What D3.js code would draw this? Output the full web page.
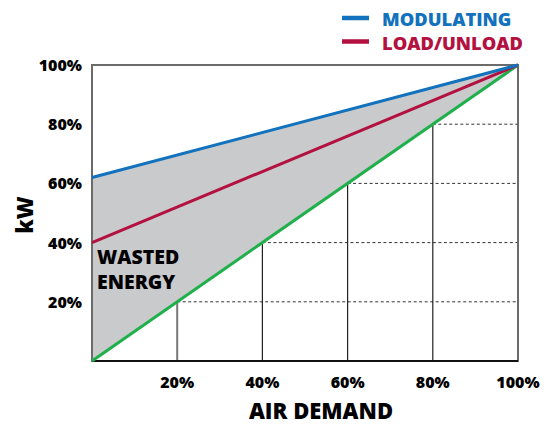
<!DOCTYPE html>
<html>
  <head>
    <style>
      body { margin: 0; background: white; }
      text { font-family: "Open Sans", sans-serif; font-weight: 800; }
    </style>
  </head>
  <body>
    <script src="https://cdn.jsdelivr.net/npm/d3@7/dist/d3.min.js"></script>
    <script>
      // air demand (%) and kW (%) for each curve
      var demand = [0, 100];
      var modulating = [62, 100];
      var loadUnload = [40, 100];
      var ideal = [0, 100];
      var gridTicks = [20, 40, 60, 80];
      var xTicks = [20, 40, 60, 80, 100];
      var yTicks = [20, 40, 60, 80, 100];
      var legendNames = ["MODULATING", "LOAD/UNLOAD"];

      var width = 550, height = 425;
      var margin = { top: 65, right: 32, bottom: 64, left: 92 };

      var svg = d3.select("body").append("svg")
          .attr("width", width)
          .attr("height", height);

      var x = d3.scaleLinear().domain([0, 100]).range([margin.left, width - margin.right]);
      var y = d3.scaleLinear().domain([0, 100]).range([height - margin.bottom, margin.top]);

      var blue = "#1272bd", red = "#b3113f", green = "#1fb04b";

      // wasted energy area between modulating and ideal
      var area = d3.area()
          .x(function(d) { return x(d.x); })
          .y0(function(d) { return y(d.lo); })
          .y1(function(d) { return y(d.hi); });
      var areaData = demand.map(function(v, i) { return { x: v, lo: ideal[i], hi: modulating[i] }; });
      svg.append("path")
          .datum(areaData)
          .attr("d", area)
          .attr("fill", "#c9cacc");

      // dashed horizontals from ideal line to right edge
      svg.selectAll(".hgrid")
        .data(gridTicks)
        .enter().append("line")
          .attr("x1", function(d) { return x(d); })
          .attr("x2", x(100))
          .attr("y1", function(d) { return y(d); })
          .attr("y2", function(d) { return y(d); })
          .attr("stroke", "#333")
          .attr("stroke-width", 1)
          .attr("stroke-dasharray", "3,2.5");

      // verticals from ideal line down to axis
      svg.selectAll(".vgrid")
        .data(gridTicks)
        .enter().append("line")
          .attr("x1", function(d) { return x(d); })
          .attr("x2", function(d) { return x(d); })
          .attr("y1", function(d) { return y(d); })
          .attr("y2", y(0))
          .attr("stroke", function(d, i) { return i === 0 ? "#777" : "#222"; })
          .attr("stroke-width", function(d, i) { return i === 0 ? 2 : 1.2; });

      // frame
      svg.append("rect")
          .attr("x", x(0)).attr("y", y(100))
          .attr("width", x(100) - x(0)).attr("height", y(0) - y(100))
          .attr("fill", "none")
          .attr("stroke", "#6b6b6b")
          .attr("stroke-width", 2);
      svg.append("line")
          .attr("x1", x(0)).attr("x2", x(100))
          .attr("y1", y(0)).attr("y2", y(0))
          .attr("stroke", "#111").attr("stroke-width", 2);

      var line = d3.line()
          .x(function(d) { return x(d[0]); })
          .y(function(d) { return y(d[1]); });

      [[ideal, green], [loadUnload, red], [modulating, blue]].forEach(function(s) {
        svg.append("path")
            .datum(demand.map(function(v, i) { return [v, s[0][i]]; }))
            .attr("d", line)
            .attr("fill", "none")
            .attr("stroke", s[1])
            .attr("stroke-width", 3);
      });

      // tick labels
      svg.selectAll(".ylab")
        .data(yTicks)
        .enter().append("text")
          .attr("x", 82)
          .attr("y", function(d) { return y(d) + 6; })
          .attr("text-anchor", "end")
          .attr("font-size", 16)
          .text(function(d) { return d + "%"; });

      svg.selectAll(".xlab")
        .data(xTicks)
        .enter().append("text")
          .attr("x", function(d) { return x(d); })
          .attr("y", 388)
          .attr("text-anchor", "middle")
          .attr("font-size", 16)
          .text(function(d) { return d + "%"; });

      svg.append("text")
          .attr("x", 321)
          .attr("y", 419)
          .attr("text-anchor", "middle")
          .attr("font-size", 22)
          .text("AIR DEMAND");

      svg.append("text")
          .attr("transform", "translate(33,215) rotate(-90)")
          .attr("text-anchor", "middle")
          .attr("font-size", 22)
          .text("kW");

      // wasted energy label
      svg.append("text")
          .attr("x", 97).attr("y", 264)
          .attr("font-size", 19.5)
          .text("WASTED");
      svg.append("text")
          .attr("x", 97).attr("y", 289)
          .attr("font-size", 19.5)
          .text("ENERGY");

      // legend
      var legend = svg.selectAll(".legend")
        .data(legendNames)
        .enter().append("g")
          .attr("transform", function(d, i) { return "translate(342," + (18 + i * 23.5) + ")"; });
      legend.append("line")
          .attr("x1", 0).attr("x2", 27)
          .attr("stroke", function(d, i) { return i === 0 ? blue : red; })
          .attr("stroke-width", 4.5);
      legend.append("text")
          .attr("x", 40)
          .attr("y", 8)
          .attr("font-size", 18.3)
          .attr("fill", function(d, i) { return i === 0 ? blue : red; })
          .text(function(d) { return d; });
    </script>
  </body>
</html>
